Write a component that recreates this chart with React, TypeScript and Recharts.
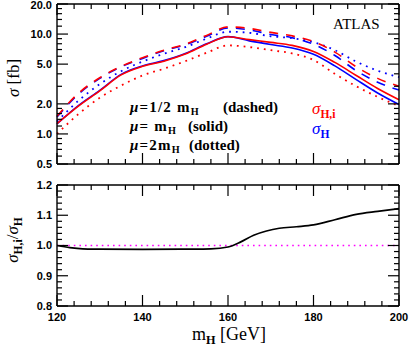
import React from "react";
import { LineChart, Line, XAxis, YAxis, ReferenceLine } from "recharts";

// Higgs mass grid [GeV]
const mH = [120, 125, 130, 135, 140, 145, 150, 155, 160, 165, 170, 175, 180, 185, 190, 195, 200];

// sigma [fb], red = sigma_H,i, blue = sigma_H
const sigHiMu1 = [1.27, 1.9, 2.7, 3.9, 4.75, 5.35, 6.3, 7.9, 9.4, 8.8, 8.25, 7.7, 6.7, 5.2, 3.85, 2.85, 2.2];
const sigHMu1 = [1.26, 1.92, 2.73, 3.95, 4.8, 5.42, 6.38, 8.0, 9.42, 8.55, 7.85, 7.25, 6.28, 4.8, 3.5, 2.57, 1.97];
const sigHiMuHalf = [1.5, 2.55, 3.65, 4.75, 5.8, 6.9, 7.9, 9.7, 11.8, 11.4, 10.4, 9.6, 8.4, 6.6, 4.7, 3.6, 3.0];
const sigHMuHalf = [1.48, 2.5, 3.6, 4.7, 5.7, 6.8, 7.8, 9.5, 11.5, 11.0, 9.9, 9.2, 7.9, 6.1, 4.3, 3.3, 2.75];
const sigHiMu2 = [1.0, 1.58, 2.3, 3.05, 3.85, 4.5, 5.35, 6.5, 7.7, 7.4, 6.9, 6.4, 5.5, 4.0, 3.0, 2.35, 1.9];
const sigHMu2 = [1.33, 2.15, 3.15, 4.25, 5.3, 6.35, 7.4, 9.0, 10.55, 10.3, 9.5, 9.1, 8.3, 6.9, 5.3, 4.3, 3.7];

// ratio panel
const ratioMass = [120, 123, 126, 130, 140, 150, 156, 160, 163, 166, 169, 172, 176, 180, 185, 190, 195, 200];
const ratioVals = [1.0, 0.993, 0.989, 0.988, 0.987, 0.988, 0.989, 0.995, 1.012, 1.034, 1.048, 1.057, 1.062, 1.068, 1.085, 1.103, 1.113, 1.122];

// ticks
const xTicks = Array.from({ length: 21 }, (_, i) => 120 + 4 * i);
const xMajor = [120, 140, 160, 180, 200];
const yTicksTop = [0.5, 0.6, 0.7, 0.8, 0.9, 1, 1.2, 1.4, 1.6, 1.8, 2, 3, 4, 5, 6, 7, 8, 9, 10, 12, 14, 16, 18, 20];
const yMajorTop = [0.5, 1, 2, 5, 10, 20];
const yTicksRatio = Array.from({ length: 21 }, (_, i) => Math.round((0.8 + i * 0.02) * 100) / 100);
const yMajorRatio = [0.8, 0.9, 1.0, 1.1, 1.2];

const topRows = mH.map((m, i) => ({
  m,
  hiMu1: sigHiMu1[i],
  hMu1: sigHMu1[i],
  hiHalf: sigHiMuHalf[i],
  hHalf: sigHMuHalf[i],
  hiMu2: sigHiMu2[i],
  hMu2: sigHMu2[i],
}));
const ratioRows = ratioMass.map((m, i) => ({ m, r: ratioVals[i] }));

const RED = "#ff0000";
const BLUE = "#0000ff";
const tickFont = { fontFamily: "'Liberation Sans', Arial, sans-serif", fontWeight: 700, fontSize: 11, fill: "#000" };
const frame = { stroke: "#000", strokeWidth: 1.4 };
const BIG = 11;
const SMALL = 5;

// plot boxes (page px)
const PL = 57, PR = 399;
const TOP = { t: 4, b: 164 };
const BOT = { t: 185, b: 306 };

const isMajor = (majors: number[], v: number) => majors.some((m) => Math.abs(m - v) < 1e-6);

const leftLabel = (majors: number[]) => (p: any) => {
  const v = p.payload.value;
  if (!isMajor(majors, v)) return <g />;
  return <text x={p.x - 5} y={Math.max(p.y, 5.5)} dy="0.36em" textAnchor="end" {...tickFont}>{Number(v).toFixed(1)}</text>;
};
const bottomLabel = (p: any) => {
  const v = p.payload.value;
  if (!isMajor(xMajor, v)) return <g />;
  return <text x={p.x} y={p.y + 11} dy="0.36em" textAnchor="middle" {...tickFont}>{v}</text>;
};
const noTick = () => <g />;

// inward tick marks of a framed panel (axes clip their own marks to the axis box, so they are overlaid)
function PanelTicks({ t, b, yPos, yTicks, yMajor }: { t: number; b: number; yPos: (v: number) => number; yTicks: number[]; yMajor: number[] }) {
  const xPos = (v: number) => PL + ((v - 120) / 80) * (PR - PL);
  return (
    <g stroke="#000" strokeWidth={1.2}>
      {yTicks.map((v) => {
        const len = isMajor(yMajor, v) ? BIG : SMALL;
        const y = yPos(v);
        return (
          <g key={`y${v}`}>
            <line x1={PL} x2={PL + len} y1={y} y2={y} />
            <line x1={PR} x2={PR - len} y1={y} y2={y} />
          </g>
        );
      })}
      {xTicks.map((v) => {
        const len = isMajor(xMajor, v) ? BIG : SMALL;
        const x = xPos(v);
        return (
          <g key={`x${v}`}>
            <line x1={x} x2={x} y1={b} y2={b - len} />
            <line x1={x} x2={x} y1={t} y2={t + len} />
          </g>
        );
      })}
    </g>
  );
}

const sub = { fontSize: "0.68em", position: "relative" as const, top: "0.32em", fontWeight: 700 };

export default function App() {
  const serif = "'Liberation Serif', 'DejaVu Serif', serif";
  const muStyle = (top: number): React.CSSProperties => ({
    position: "absolute", left: 130, top, font: `bold 15px ${serif}`, lineHeight: "15px", whiteSpace: "nowrap", letterSpacing: "1.2px",
  });
  const parStyle = (left: number, top: number): React.CSSProperties => ({
    position: "absolute", left, top, font: `bold 15px ${serif}`, lineHeight: "15px", whiteSpace: "nowrap",
  });
  const topY = (v: number) => TOP.t + ((TOP.b - TOP.t) * Math.log(20 / v)) / Math.log(40);
  const botY = (v: number) => BOT.t + ((BOT.b - BOT.t) * (1.2 - v)) / 0.4;
  return (
    <div style={{ position: "absolute", left: 0, top: 0, width: 409, height: 346, background: "#fff", overflow: "hidden" }}>
      <div style={{ position: "absolute", left: 0, top: 0 }}>
        <LineChart width={409} height={170} data={topRows} margin={{ top: 3, right: 9, bottom: 5, left: 0 }}>
          <XAxis xAxisId="b" dataKey="m" type="number" domain={[120, 200]} ticks={xTicks} interval={0} height={1}
            tickSize={0} tickMargin={0} tickLine={false} axisLine={frame} tick={noTick} />
          <XAxis xAxisId="t" orientation="top" dataKey="m" type="number" domain={[120, 200]} ticks={xTicks} interval={0} height={1}
            tickSize={0} tickMargin={0} tickLine={false} axisLine={frame} tick={noTick} />
          <YAxis yAxisId="l" scale="log" type="number" domain={[0.5, 20]} ticks={yTicksTop} interval={0} width={57}
            tickSize={0} tickMargin={0} tickLine={false} axisLine={frame} tick={leftLabel(yMajorTop)} />
          <YAxis yAxisId="r" orientation="right" scale="log" type="number" domain={[0.5, 20]} ticks={yTicksTop} interval={0} width={1}
            tickSize={0} tickMargin={0} tickLine={false} axisLine={frame} tick={noTick} />
          <Line xAxisId="b" yAxisId="l" dataKey="hMu2" type="monotone" stroke={BLUE} strokeWidth={1.8} strokeDasharray="1.8 5" dot={false} isAnimationActive={false} />
          <Line xAxisId="b" yAxisId="l" dataKey="hiMu2" type="monotone" stroke={RED} strokeWidth={1.8} strokeDasharray="1.8 5" dot={false} isAnimationActive={false} />
          <Line xAxisId="b" yAxisId="l" dataKey="hHalf" type="monotone" stroke={BLUE} strokeWidth={1.6} strokeDasharray="9 8" dot={false} isAnimationActive={false} />
          <Line xAxisId="b" yAxisId="l" dataKey="hiHalf" type="monotone" stroke={RED} strokeWidth={1.6} strokeDasharray="9 8" dot={false} isAnimationActive={false} />
          <Line xAxisId="b" yAxisId="l" dataKey="hMu1" type="monotone" stroke={BLUE} strokeWidth={1.6} dot={false} isAnimationActive={false} />
          <Line xAxisId="b" yAxisId="l" dataKey="hiMu1" type="monotone" stroke={RED} strokeWidth={1.6} dot={false} isAnimationActive={false} />
        </LineChart>
      </div>

      <div style={{ position: "absolute", left: 0, top: 170 }}>
        <LineChart width={409} height={176} data={ratioRows} margin={{ top: 14, right: 9, bottom: 0, left: 0 }}>
          <XAxis xAxisId="b" dataKey="m" type="number" domain={[120, 200]} ticks={xTicks} interval={0} height={40}
            tickSize={0} tickMargin={0} tickLine={false} axisLine={frame} tick={bottomLabel} />
          <XAxis xAxisId="t" orientation="top" dataKey="m" type="number" domain={[120, 200]} ticks={xTicks} interval={0} height={1}
            tickSize={0} tickMargin={0} tickLine={false} axisLine={frame} tick={noTick} />
          <YAxis yAxisId="l" type="number" domain={[0.8, 1.2]} ticks={yTicksRatio} interval={0} width={57}
            tickSize={0} tickMargin={0} tickLine={false} axisLine={frame} tick={leftLabel(yMajorRatio)} />
          <YAxis yAxisId="r" orientation="right" type="number" domain={[0.8, 1.2]} ticks={yTicksRatio} interval={0} width={1}
            tickSize={0} tickMargin={0} tickLine={false} axisLine={frame} tick={noTick} />
          <ReferenceLine xAxisId="b" yAxisId="l" y={1} stroke="#ff00ff" strokeWidth={1.6} strokeDasharray="1.6 4" />
          <Line xAxisId="b" yAxisId="l" dataKey="r" type="monotone" stroke="#000" strokeWidth={1.7} dot={false} isAnimationActive={false} />
        </LineChart>
      </div>

      <svg width={409} height={346} style={{ position: "absolute", left: 0, top: 0, pointerEvents: "none" }}>
        <PanelTicks t={TOP.t} b={TOP.b} yPos={topY} yTicks={yTicksTop} yMajor={yMajorTop} />
        <PanelTicks t={BOT.t} b={BOT.b} yPos={botY} yTicks={yTicksRatio} yMajor={yMajorRatio} />
      </svg>

      {/* annotations */}
      <div style={{ position: "absolute", left: 333, top: 17, font: `15px ${serif}`, lineHeight: "15px", whiteSpace: "nowrap" }}>ATLAS</div>
      <div style={muStyle(100)}><i>μ</i>=1/2 m<span style={sub}>H</span></div>
      <div style={parStyle(223, 100)}>(dashed)</div>
      <div style={muStyle(119)}><i>μ</i>= m<span style={sub}>H</span></div>
      <div style={parStyle(188, 119)}>(solid)</div>
      <div style={muStyle(138)}><i>μ</i>=2m<span style={sub}>H</span></div>
      <div style={parStyle(189, 138)}>(dotted)</div>
      <div style={{ position: "absolute", left: 312, top: 100, font: `italic 17px ${serif}`, lineHeight: "17px", color: RED, whiteSpace: "nowrap" }}>
        σ<span style={{ ...sub, fontStyle: "normal" }}>H,i</span>
      </div>
      <div style={{ position: "absolute", left: 312, top: 120, font: `italic 17px ${serif}`, lineHeight: "17px", color: BLUE, whiteSpace: "nowrap" }}>
        σ<span style={{ ...sub, fontStyle: "normal" }}>H</span>
      </div>
      <div style={{ position: "absolute", left: 13, top: 78, transform: "translate(-50%,-50%) rotate(-90deg)", font: `17px ${serif}`, lineHeight: "17px", whiteSpace: "nowrap" }}>
        <i>σ</i> [fb]
      </div>
      <div style={{ position: "absolute", left: 13, top: 240, transform: "translate(-50%,-50%) rotate(-90deg)", font: `17px ${serif}`, lineHeight: "17px", whiteSpace: "nowrap" }}>
        <i>σ</i><span style={sub}>H,i</span>/<i>σ</i><span style={sub}>H</span>
      </div>
      <div style={{ position: "absolute", left: 229, top: 335, transform: "translate(-50%,-50%)", font: `18px ${serif}`, lineHeight: "18px", whiteSpace: "nowrap" }}>
        m<span style={sub}>H</span> [GeV]
      </div>
    </div>
  );
}
